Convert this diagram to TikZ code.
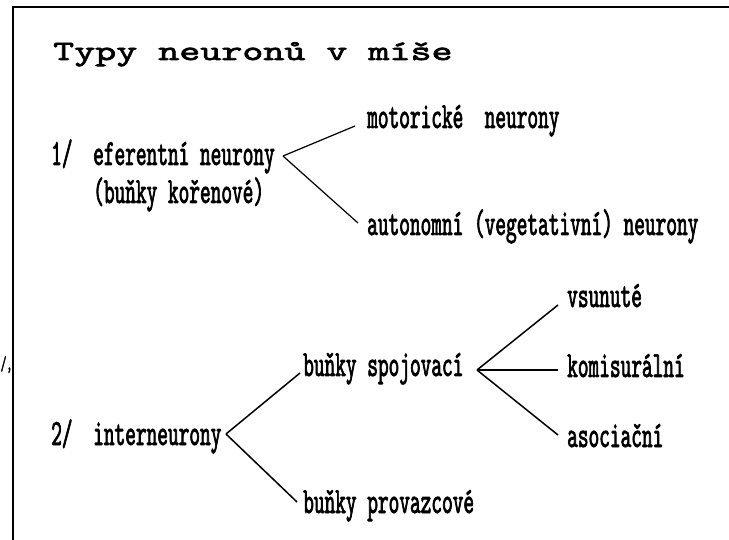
\documentclass[tikz,border=0pt]{standalone}
\usepackage{fontspec}
\newfontfamily\headfont{lmmono10-regular.otf}[FakeStretch=1.43,FakeBold=2.5]
\newfontfamily\narrowfont{lmmono10-regular.otf}[FakeStretch=0.55,FakeBold=1.8]

\begin{document}
\begin{tikzpicture}[
    x=1pt,y=-1pt,
    headline/.style={anchor=base west,inner sep=0pt,font=\headfont\fontsize{28}{30}\selectfont},
    entry/.style={anchor=base west,inner sep=0pt,font=\narrowfont\fontsize{37}{38}\selectfont},
    branch/.style={line width=1.5pt},
    thinbranch/.style={line width=1.2pt},
    thickbranch/.style={line width=2.6pt},
    ]
    \useasboundingbox (0,0) rectangle (729,540);
    \draw[line width=2pt] (13,545) -- (13,7) -- (735,7);
    \node[entry,font=\narrowfont\fontsize{20}{22}\selectfont] (stray) at (0.5,370) {/,};

    \node[headline] (title) at (53,60) {Typy neuronů v míše};

    \node[entry] (n1) at (51,165) {1/};
    \node[entry] (efer) at (93,165) {eferentní neurony};
    \node[entry] (kor) at (93,203) {(buňky kořenové)};
    \node[entry] (mot) at (367,128) {motorické~~neurony};
    \node[entry] (auto) at (367,235) {autonomní (vegetativní) neurony};

    \node[entry] (n2) at (51,445) {2/};
    \node[entry] (inter) at (93,445) {interneurony};
    \node[entry] (spoj) at (303,376) {buňky spojovací};
    \node[entry] (prov) at (303,513) {buňky provazcové};
    \node[entry] (vsun) at (567,307) {vsunuté};
    \node[entry] (komi) at (567,377) {komisurální};
    \node[entry] (asoc) at (567,447) {asociační};

    \coordinate (v1) at (283,156);
    \coordinate (v2) at (226,434);
    \coordinate (v3) at (477,370);
    \path (v1)
        edge[thinbranch] ([shift={(-12,-2)}]mot.base west)
        edge[thinbranch] ([shift={(-9,-12)}]auto.base west)
        ;
    \path (v2)
        edge[branch] ([shift={(-3,-3)}]spoj.base west)
        edge[branch] ([shift={(-6,-11)}]prov.base west)
        ;
    \path (v3)
        edge[branch] ([shift={(-9,-2)}]vsun.base west)
        edge[thickbranch] ([shift={(-9,-7)}]komi.base west)
        edge[branch] ([shift={(-9,-12)}]asoc.base west)
        ;
\end{tikzpicture}
\end{document}
